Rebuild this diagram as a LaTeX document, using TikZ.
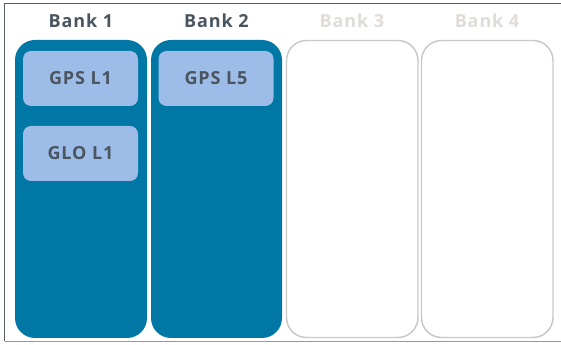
\documentclass[tikz,border=0pt]{standalone}
\usepackage{fontspec}
\setmainfont{Open Sans}[LetterSpace=5]
\definecolor{bankblue}{HTML}{0077A5}
\definecolor{sigfill}{HTML}{9DBDE8}
\definecolor{txt}{HTML}{4A5560}
\definecolor{faint}{HTML}{E0DCD8}
\definecolor{emptyline}{HTML}{C8C8C8}
\definecolor{frameline}{HTML}{5A5F66}
\begin{document}
\begin{tikzpicture}[x=0.75pt,y=-0.75pt,
  fullbank/.style={fill=bankblue,draw=none,rounded corners=15pt},
  emptybank/.style={fill=white,draw=emptyline,line width=1.1pt,rounded corners=15pt},
  sig/.style={fill=sigfill,draw=none,rounded corners=6pt,text=txt,inner sep=0pt,
    minimum width=86.25pt,minimum height=41.25pt,font=\bfseries\fontsize{13.5}{15}\selectfont},
  banklabel/.style={font=\bfseries\fontsize{13.5}{15}\selectfont,text=txt},
  fainlabel/.style={font=\bfseries\fontsize{13.5}{15}\selectfont,text=faint}]
\useasboundingbox (0,0) rectangle (561,345);
\fill[white] (0,0) rectangle (561,345);
\draw[frameline,line width=1.4pt] (561,3.5) -- (4.5,3.5) -- (4.5,341.5);
\draw[gray!80,line width=1.2pt] (4.5,341.5) -- (561,341.5);
\path[fullbank] (15,40) rectangle (147,338);
\path[fullbank] (151,40) rectangle (282,338);
\path[emptybank] (286.5,40.5) rectangle (418,337.5);
\path[emptybank] (421.5,40.5) rectangle (553,337.5);
\node[banklabel] (b1) at (81,21) {Bank 1};
\node[banklabel] (b2) at (216.5,21) {Bank 2};
\node[fainlabel] (b3) at (352,21) {Bank 3};
\node[fainlabel] (b4) at (487,21) {Bank 4};
\node[sig] (gpsl1) at (80.5,78.5) {GPS L1};
\node[sig] (glol1) at (80.5,153.5) {GLO L1};
\node[sig] (gpsl5) at (216,78.5) {GPS L5};
\end{tikzpicture}
\end{document}
